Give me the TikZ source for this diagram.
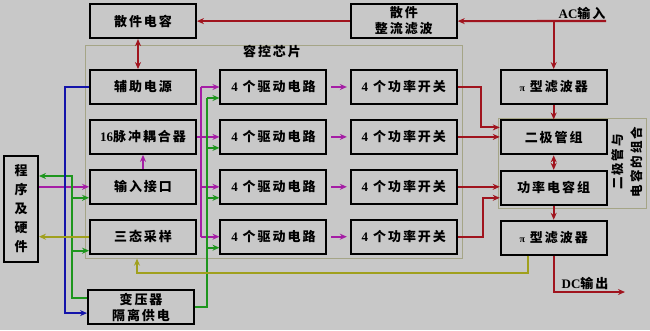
\documentclass[tikz,border=0pt]{standalone}
\usepackage{fontspec}
\setmainfont{Noto Sans CJK SC}[LetterSpace=15]
\newfontfamily\latfont{Liberation Serif}
\usetikzlibrary{positioning, arrows.meta}
\definecolor{bggray}{RGB}{200,200,200}
\definecolor{framegray}{RGB}{165,165,135}
\definecolor{darkred}{RGB}{160,20,30}
\definecolor{lineviolet}{RGB}{165,30,165}
\definecolor{linegreen}{RGB}{30,150,30}
\definecolor{lineblue}{RGB}{20,20,170}
\definecolor{lineolive}{RGB}{160,160,30}
\newcommand\boxfont{\fontsize{13}{16}\selectfont\bfseries}
\newcommand\pisym{{\latfont\fontsize{10}{10}\selectfont π}}

\begin{document}
\begin{tikzpicture}[
x=1pt, y=-1pt,
node distance=14pt and 22.5pt,
box/.style={rectangle, draw, line width=1.9pt, fill=bggray, minimum width=106pt, minimum height=34pt, inner sep=0pt, align=center, font=\boxfont},
lbl/.style={inner sep=1pt, align=center, font=\boxfont},
frame/.style={draw=framegray, line width=1pt},
redarrow/.style={-{Stealth[length=7pt,width=6pt]}, line width=2.1pt, draw=darkred},
redboth/.style={{Stealth[length=7pt,width=6pt]}-{Stealth[length=7pt,width=6pt]}, line width=2.1pt, draw=darkred},
purarrow/.style={-{Stealth[length=7pt,width=6pt]}, line width=2.1pt, draw=lineviolet},
purline/.style={line width=2.1pt, draw=lineviolet},
grnarrow/.style={-{Stealth[length=7pt,width=6pt]}, line width=2.1pt, draw=linegreen},
grnline/.style={line width=2.1pt, draw=linegreen},
bluarrow/.style={-{Stealth[length=7pt,width=6pt]}, line width=2.1pt, draw=lineblue},
olvarrow/.style={-{Stealth[length=7pt,width=6pt]}, line width=2.1pt, draw=lineolive}
]

\fill[bggray] (0,0) rectangle (650,330);
\useasboundingbox (0,0) rectangle (650,330);

% frames
\draw[frame] (85,45) rectangle (462,258);
\draw[frame] (498,118) rectangle (646,208);
\node[lbl] (chip_lbl) at (272,52) {容控芯片};
\node[lbl, rotate=90, font=\fontsize{12.5}{19}\selectfont\bfseries] (combo_lbl) at (627,162) {二极管与\\电容的组合};

% chip
\node[box] (chip_aux) at (143,87) {辅助电源};
\node[box, below=of chip_aux] (chip_coup) {{\latfont 16}脉冲耦合器};
\node[box, below=of chip_coup] (chip_in) {输入接口};
\node[box, below=of chip_in] (chip_tri) {三态采样};

\node[box, right=of chip_aux] (drv_1) {{\latfont 4} 个驱动电路};
\node[box, right=of chip_coup] (drv_2) {{\latfont 4} 个驱动电路};
\node[box, right=of chip_in] (drv_3) {{\latfont 4} 个驱动电路};
\node[box, right=of chip_tri] (drv_4) {{\latfont 4} 个驱动电路};

\node[box, right=of drv_1] (sw_1) {{\latfont 4} 个功率开关};
\node[box, right=of drv_2] (sw_2) {{\latfont 4} 个功率开关};
\node[box, right=of drv_3] (sw_3) {{\latfont 4} 个功率开关};
\node[box, right=of drv_4] (sw_4) {{\latfont 4} 个功率开关};

% outside
\node[box, above=30pt of chip_aux] (disc_cap) {散件电容};
\node[box, above=30pt of sw_1] (disc_rect) {散件\\整流滤波};
\node[box, right=42pt of sw_1] (pi_top) {\pisym\ 型滤波器};
\node[box, below=14.5pt of pi_top] (diode_grp) {二极管组};
\node[box, below=14.5pt of diode_grp] (cap_grp) {功率电容组};
\node[box, below=14pt of cap_grp] (pi_bot) {\pisym\ 型滤波器};
\node[box, minimum width=34pt, minimum height=106pt, font=\fontsize{13}{19}\selectfont\bfseries] (prog_hw) at (21,209) {程\\序\\及\\硬\\件};
\node[box, below=34.5pt of chip_tri, xshift=-2pt] (iso_xfmr) {变压器\\隔离供电};

% red power path
\coordinate (ac_in) at (606,21);
\node[lbl] (ac_lbl) at (582,13) {{\latfont AC}输入};
\draw[redarrow] (ac_in) -- (disc_rect.east);
\draw[redarrow] (disc_rect.west) -- (disc_cap.east);
\draw[redarrow] (pi_top.north |- ac_in) -- (pi_top.north);
\draw[redboth] ([xshift=-5pt]disc_cap.south) -- ([xshift=-5pt]disc_cap.south |- chip_aux.north);
\draw[redarrow] (pi_top.south) -- (diode_grp.north);
\draw[redarrow] (sw_1.east) -- ++(23,0) |- ([yshift=10pt]diode_grp.west);
\draw[redarrow] (sw_2.east) -- (sw_2.east -| diode_grp.west);
\draw[redboth] (diode_grp.south) -- (cap_grp.north);
\draw[redarrow] (sw_3.east) -- (sw_3.east -| cap_grp.west);
\draw[redarrow] (sw_4.east) -- ++(25,0) |- ([yshift=-10pt]cap_grp.west);
\draw[redarrow] (cap_grp.south) -- (pi_bot.north);
\coordinate (dc_out) at (625,292);
\draw[redarrow] (pi_bot.south) |- (dc_out);
\node[lbl] (dc_lbl) at (585,283) {{\latfont DC}输出};

% violet signals
\coordinate (p_bus) at (201,0);
\draw[purarrow] (chip_in.north) -- (chip_coup.south);
\draw[purarrow] (chip_in.west -| prog_hw.east) -- (chip_in.west);
\draw[purline] (p_bus |- drv_1.west) -- (p_bus |- drv_4.west);
\draw[purarrow] (chip_coup.east) -- (drv_2.west);
\draw[purarrow] (p_bus |- drv_1.west) -- (drv_1.west);
\draw[purarrow] (p_bus |- drv_3.west) -- (drv_3.west);
\draw[purarrow] (p_bus |- drv_4.west) -- (drv_4.west);
\draw[purarrow] ([xshift=4pt]drv_1.east) -- ([xshift=-3pt]sw_1.west);
\draw[purarrow] ([xshift=4pt]drv_2.east) -- ([xshift=-3pt]sw_2.west);
\draw[purarrow] ([xshift=4pt]drv_3.east) -- ([xshift=-3pt]sw_3.west);
\draw[purarrow] ([xshift=4pt]drv_4.east) -- ([xshift=-3pt]sw_4.west);

% green supply
\coordinate (g_bus) at (207,0);
\coordinate (g_d1) at ([yshift=-11pt]drv_1.west);
\coordinate (g_d2) at ([yshift=-11pt]drv_2.west);
\coordinate (g_d3) at ([yshift=-11pt]drv_3.west);
\coordinate (g_d4) at ([yshift=-11pt]drv_4.west);
\draw[grnline] (iso_xfmr.east) -| (g_bus |- g_d1);
\draw[grnarrow] (g_bus |- g_d1) -- (g_d1);
\draw[grnarrow] (g_bus |- g_d2) -- (g_d2);
\draw[grnarrow] (g_bus |- g_d3) -- (g_d3);
\draw[grnarrow] (g_bus |- g_d4) -- (g_d4);
\coordinate (g_top) at (72,176);
\coordinate (g_in) at ([yshift=-11pt]chip_in.west);
\coordinate (g_tri) at ([yshift=-14pt]chip_tri.west);
\draw[grnarrow] ([yshift=9pt]iso_xfmr.west) -| (g_top) -- (g_top -| prog_hw.east);
\draw[grnarrow] (g_top |- g_in) -- (g_in);
\draw[grnarrow] (g_top |- g_tri) -- (g_tri);

% blue
\coordinate (b_bus) at (65,0);
\draw[bluarrow] (chip_aux.west) -- (b_bus |- chip_aux.west) |- ([yshift=-6pt]iso_xfmr.west);

% olive sampling
\draw[olvarrow] (chip_tri.west) -- (chip_tri.west -| prog_hw.east);
\draw[olvarrow] ([xshift=-26pt]pi_bot.south) -- ++(0,17) -| ([shift={(-6pt,-4pt)}]chip_tri.south);

\end{tikzpicture}
\end{document}
